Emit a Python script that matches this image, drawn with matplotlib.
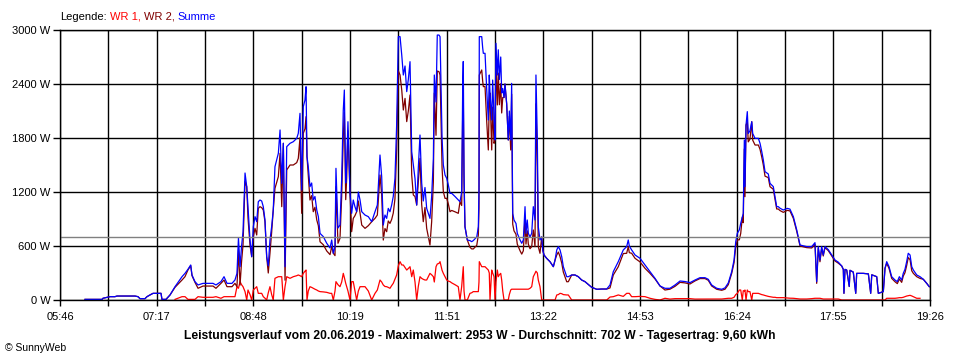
import numpy as np
import matplotlib.pyplot as plt

plt.rcParams['font.family'] = ['Liberation Sans', 'DejaVu Sans']

# time in minutes since midnight (20.06.2019)
t_min = [
    369.6, 385.6, 386.5, 393.1, 397.8, 399.7, 416.7, 419.5, 421.4, 426.1,
    428.0, 430.8, 433.7, 441.2, 442.1, 445.9, 449.7, 454.4, 461.0, 463.8,
    466.6, 469.2, 470.4, 473.2, 476.1, 480.8, 490.2, 493.0, 497.7, 500.6,
    503.4, 508.1, 510.9, 512.8, 514.2, 515.7, 517.1, 518.5, 520.4, 522.0,
    523.2, 525.1, 526.7, 528.2, 529.8, 531.4, 532.9, 534.5, 536.1, 537.6,
    539.2, 540.8, 542.3, 543.9, 545.5, 547.0, 548.6, 550.2, 551.8, 553.4,
    555.0, 556.5, 558.1, 559.7, 562.8, 565.9, 569.1, 570.6, 572.2, 573.8,
    575.3, 576.9, 577.9, 578.8, 580.0, 581.6, 583.2, 584.7, 586.3, 588.0,
    589.5, 591.1, 594.2, 597.4, 600.5, 602.1, 603.6, 605.2, 606.1, 608.0,
    609.9, 611.5, 613.0, 614.0, 615.3, 616.2, 617.4, 619.3, 620.9, 622.4,
    624.0, 625.6, 627.2, 628.8, 630.4, 633.5, 636.6, 639.8, 642.9, 645.1,
    647.6, 649.2, 650.7, 652.3, 653.9, 655.4, 657.0, 658.6, 660.1, 661.7,
    663.3, 664.9, 666.5, 668.1, 669.6, 671.2, 672.8, 674.3, 675.9, 677.5,
    679.0, 680.6, 682.2, 683.7, 685.3, 686.9, 688.4, 690.0, 691.6, 694.7,
    696.3, 697.9, 698.8, 700.4, 701.6, 703.2, 704.2, 705.1, 706.1, 707.3,
    708.9, 710.5, 712.0, 713.6, 715.2, 718.3, 721.4, 723.0, 724.6, 725.6,
    726.1, 726.8, 727.7, 729.9, 732.4, 734.0, 735.5, 737.2, 738.8, 740.3,
    740.9, 741.2, 743.5, 744.4, 745.0, 746.6, 748.2, 749.7, 750.6, 751.3,
    752.9, 753.8, 755.1, 756.0, 756.9, 758.2, 759.1, 760.1, 761.4, 762.3,
    763.3, 764.5, 765.4, 767.0, 768.5, 769.5, 770.8, 771.7, 772.7, 773.9,
    775.8, 777.0, 779.6, 781.2, 782.7, 784.3, 785.2, 786.4, 787.4, 789.0,
    790.6, 792.1, 793.7, 794.6, 795.9, 796.8, 798.4, 800.0, 801.0, 802.2,
    804.7, 807.8, 811.0, 812.6, 814.2, 815.7, 817.3, 818.9, 820.4, 823.6,
    825.1, 828.3, 831.4, 834.5, 837.7, 840.8, 847.1, 851.9, 856.6, 861.3,
    864.4, 867.5, 872.2, 876.9, 880.1, 881.6, 882.6, 884.8, 888.0, 892.7,
    897.4, 902.1, 906.8, 911.5, 916.2, 920.9, 925.7, 930.4, 935.1, 939.8,
    944.5, 949.2, 953.9, 957.0, 960.2, 965.0, 969.7, 972.8, 975.9, 979.1,
    981.3, 982.9, 984.4, 986.3, 987.6, 989.1, 990.0, 991.0, 991.6, 992.6,
    993.8, 994.7, 996.3, 998.0, 998.9, 1001.1, 1004.2, 1005.8, 1007.4, 1008.9,
    1010.5, 1013.6, 1015.2, 1018.3, 1019.9, 1021.5, 1023.0, 1024.6, 1027.7, 1031.5,
    1034.0, 1037.2, 1040.4, 1043.5, 1049.8, 1054.5, 1057.6, 1059.2, 1060.7, 1062.3,
    1063.9, 1065.4, 1067.0, 1070.1, 1073.4, 1076.5, 1079.6, 1082.8, 1084.3, 1084.9,
    1085.9, 1087.5, 1089.9, 1090.6, 1093.7, 1096.0, 1096.9, 1103.1, 1107.9, 1110.1,
    1111.1, 1115.8, 1117.3, 1122.0, 1123.6, 1125.2, 1127.4, 1129.9, 1133.0, 1135.2,
    1137.1, 1139.3, 1140.8, 1142.4, 1144.0, 1145.5, 1147.2, 1148.8, 1150.3, 1153.5,
    1156.6, 1159.7, 1162.9, 1165.3,
]

# Summe (W)
summe = [
    7, 7, 19, 37, 37, 44, 44, 37, 15, 15,
    37, 56, 74, 74, 7, 7, 56, 148, 259, 296,
    341, 389, 278, 204, 167, 185, 185, 167, 204, 259,
    185, 185, 222, 296, 689, 370, 593, 759, 1411, 1259,
    1022, 667, 481, 815, 926, 870, 1092, 1111, 1100, 1037,
    889, 481, 380, 667, 815, 1000, 1481, 1556, 1630, 1889,
    1296, 1741, 370, 1704, 1741, 1759, 1796, 1852, 2074, 1222,
    2148, 2222, 2370, 1593, 1481, 1259, 1300, 1111, 1150, 1000,
    926, 740, 704, 630, 578, 667, 519, 593, 1463, 800,
    833, 1352, 2111, 2333, 1300, 1500, 1981, 1200, 963, 1111,
    1037, 981, 1200, 1111, 981, 944, 926, 870, 981, 1055,
    1611, 1370, 833, 944, 907, 1018, 981, 1055, 1150, 1352,
    1944, 2926, 2926, 2722, 2500, 2600, 2315, 2450, 2648, 1648,
    1500, 1350, 1055, 1463, 1833, 1300, 1100, 1250, 1018, 907,
    1150, 1570, 2500, 2200, 2944, 2944, 2926, 2400, 1800, 1500,
    1389, 1352, 1278, 1185, 1185, 1150, 1111, 1092, 1200, 2420,
    2650, 1400, 815, 667, 660, 648, 660, 680, 700, 815,
    1222, 2926, 2926, 2800, 2741, 2741, 2333, 2000, 2500, 2300,
    2000, 2444, 2000, 1778, 2852, 2500, 2780, 2450, 2700, 2300,
    2350, 2250, 2400, 2180, 1778, 2100, 1778, 2407, 963, 889,
    850, 741, 667, 630, 667, 1037, 741, 889, 741, 700,
    741, 1037, 889, 2500, 1778, 815, 667, 700, 556, 500,
    463, 426, 370, 444, 556, 593, 556, 480, 370, 259,
    259, 278, 278, 259, 222, 204, 141, 119, 122, 122,
    167, 315, 426, 556, 593, 667, 600, 556, 500, 463,
    389, 315, 241, 156, 130, 130, 167, 211, 205, 193,
    222, 248, 248, 230, 167, 130, 119, 135, 190, 315,
    444, 648, 741, 780, 852, 920, 963, 1778, 1259, 1944,
    2093, 1850, 1880, 1981, 1850, 1796, 1796, 1741, 1650, 1556,
    1426, 1400, 1296, 1260, 1148, 1037, 1037, 1020, 1000, 1018,
    1010, 926, 778, 611, 593, 593, 637, 204, 593, 444,
    593, 500, 593, 560, 500, 444, 420, 378, 340, 74,
    340, 333, 150, 330, 310, 74, 296, 296, 290, 74,
    280, 259, 74, 93, 352, 426, 370, 259, 222, 204,
    259, 222, 296, 340, 426, 519, 500, 370, 333, 278,
    259, 230, 185, 148,
]

# WR 1 (W), nan = keine Daten
nan = np.nan
wr1 = [
    nan, nan, nan, nan, nan, nan, nan, nan, nan, nan,
    nan, nan, nan, nan, nan, nan, nan, 7, 37, 37,
    7, 7, 7, 7, 37, 30, 30, 37, 19, 37,
    37, 37, 37, 148, 130, 204, 170, 148, 93, 0,
    111, 60, 0, 111, 130, 148, 74, 74, 74, 37,
    20, 0, 80, 148, 60, 0, 241, 250, 259, 259,
    259, 0, 150, 259, 241, 259, 270, 278, 270, 259,
    296, 320, 333, 0, 100, 148, 140, 130, 120, 111,
    100, 93, 90, 85, 74, 74, 0, 100, 204, 170,
    148, 200, 296, 250, 185, 148, 100, 0, 204, 204,
    100, 0, 100, 148, 148, 148, 100, 0, 74, 111,
    222, 200, 167, 150, 148, 140, 130, 160, 185, 230,
    278, 380, 426, 389, 389, 360, 333, 350, 370, 259,
    333, 200, 0, 150, 259, 240, 230, 222, 222, 296,
    280, 259, 200, 370, 400, 407, 426, 380, 330, 296,
    260, 222, 210, 204, 190, 170, 148, 0, 150, 300,
    370, 100, 0, 0, 74, 80, 93, 93, 93, 93,
    200, 426, 370, 370, 370, 370, 350, 333, 300, 0,
    333, 300, 259, 0, 200, 333, 259, 280, 296, 222,
    100, 0, 0, 0, 0, 60, 111, 120, 120, 120,
    120, 120, 120, 120, 120, 120, 120, 120, 120, 130,
    148, 259, 296, 320, 300, 222, 148, 0, 0, 0,
    0, 0, 0, 0, 56, 60, 74, 70, 60, 56,
    56, 0, 0, 0, 0, 0, 0, 0, 0, 0,
    33, 37, 56, 40, 74, 74, 74, 37, 37, 40,
    37, 19, 7, 0, 19, 10, 15, 15, 15, 15,
    10, 10, 10, 11, 11, 11, 11, 15, 19, 19,
    30, 60, 74, 111, 111, 0, 104, 100, 111, 0,
    111, 93, 93, 0, 74, 74, 74, 67, 60, 56,
    50, 40, 37, 30, 30, 26, 26, 26, 26, 22,
    20, 19, 15, 11, 11, 15, 19, 19, 19, 19,
    15, 11, 11, 11, 11, 11, 11, 0, 0, 0,
    0, 0, 0, 0, 0, 0, 0, 0, 0, 0,
    0, 0, 0, 0, 0, 19, 19, 19, 19, 22,
    26, 26, 30, 37, 44, 48, 52, 45, 37, 19,
    19, nan, nan, nan,
]

x_labels = ["05:46", "07:17", "08:48", "10:19", "11:51",
            "13:22", "14:53", "16:24", "17:55", "19:26"]
y_ticks = [0, 600, 1200, 1800, 2400, 3000]
durchschnitt = 702

t = np.array(t_min)
summe = np.array(summe, dtype=float)
wr1 = np.array(wr1, dtype=float)
wr2 = summe - np.nan_to_num(wr1)

fig = plt.figure(figsize=(9.6, 3.6), dpi=100)
ax = fig.add_axes([60 / 960, 1 - 300 / 360, 870 / 960, 270 / 360])

ax.plot(t, wr1, color="#ff0000", lw=0.9, zorder=2)
ax.plot(t, wr2, color="#800000", lw=0.9, zorder=2.1)
ax.plot(t, summe, color="#0000ff", lw=0.9, zorder=2.2)

ax.axhline(durchschnitt, color="#808080", lw=1.0, zorder=3)

ax.set_xlim(346, 1166)
ax.set_ylim(0, 3000)
ax.set_xticks(np.linspace(346, 1166, len(x_labels)))
ax.set_xticklabels(x_labels)
ax.set_xticks(np.linspace(346, 1166, 2 * len(x_labels) - 1), minor=True)
ax.set_yticks(y_ticks)
ax.set_yticklabels([f"{v} W" for v in y_ticks])

ax.grid(True, which="both", axis="x", color="black", lw=1.0)
ax.grid(True, which="major", axis="y", color="black", lw=1.0)
for gl in ax.get_xgridlines() + ax.get_ygridlines():
    gl.set_zorder(3)
ax.tick_params(axis="x", which="both", direction="out", length=4, width=1,
               labelsize=8, pad=5)
ax.tick_params(axis="y", direction="out", length=5, width=1, labelsize=8, pad=2)
for sp in ax.spines.values():
    sp.set_color("black")
    sp.set_linewidth(1.0)
    sp.set_zorder(3)

# Legende oben links, mehrfarbig
fig.canvas.draw()
r = fig.canvas.get_renderer()
parts = [("Legende:", "black"), ("WR 1,", "#ff0000"),
         ("WR 2,", "#800000"), ("Summe", "#0000ff")]
x = 60
for s, c in parts:
    txt = fig.text(x / 960, 1 - 16.5 / 360, s, color=c, fontsize=8, va="center")
    bb = txt.get_window_extent(renderer=r)
    x = bb.x1 + 3

fig.text(480 / 960, 1 - 336 / 360,
         "Leistungsverlauf vom 20.06.2019 - Maximalwert: 2953 W - "
         "Durchschnitt: 702 W - Tagesertrag: 9,60 kWh",
         ha="center", va="center", fontsize=8.7, fontweight="bold")
fig.text(5 / 960, 1 - 348 / 360, "© SunnyWeb", ha="left", va="center", fontsize=7.5)

fig.savefig("out.png", dpi=100)
